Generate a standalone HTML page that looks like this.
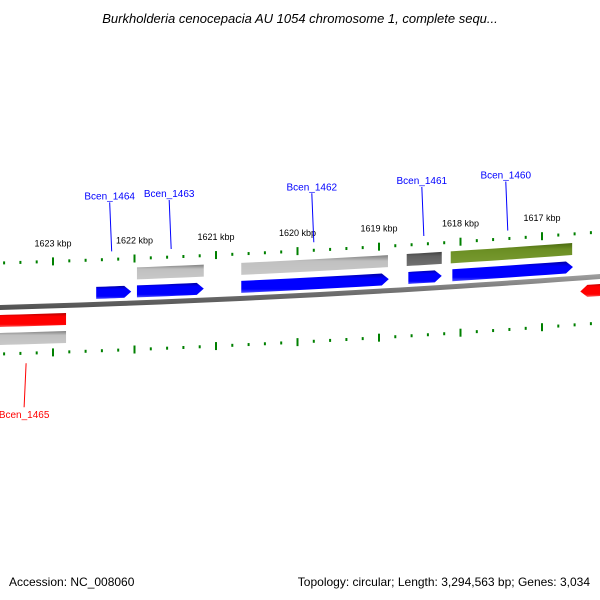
<!DOCTYPE html>
<html><head><meta charset="utf-8"><style>
body{margin:0;background:#fff;}
svg{display:block;font-family:"Liberation Sans","DejaVu Sans",sans-serif;}
</style></head><body>
<svg id="c" width="600" height="600">
<defs>
<linearGradient id="gBlue" x1="0" y1="0" x2="0" y2="1"><stop offset="0" stop-color="#0000a0"/><stop offset="0.25" stop-color="#0000ff"/><stop offset="0.8" stop-color="#0000ff"/><stop offset="1" stop-color="#5050ff"/></linearGradient>
<linearGradient id="gRed" x1="0" y1="0" x2="0" y2="1"><stop offset="0" stop-color="#b00000"/><stop offset="0.25" stop-color="#ff0000"/><stop offset="0.8" stop-color="#ff0000"/><stop offset="1" stop-color="#ff6060"/></linearGradient>
<linearGradient id="gGray" x1="0" y1="0" x2="0" y2="1"><stop offset="0" stop-color="#808080"/><stop offset="0.3" stop-color="#c0c0c0"/><stop offset="1" stop-color="#c8c8c8"/></linearGradient>
<linearGradient id="gDark" x1="0" y1="0" x2="0" y2="1"><stop offset="0" stop-color="#404040"/><stop offset="0.3" stop-color="#606060"/><stop offset="1" stop-color="#707070"/></linearGradient>
<linearGradient id="gOlive" x1="0" y1="0" x2="0" y2="1"><stop offset="0" stop-color="#4a6a10"/><stop offset="0.3" stop-color="#6b8e23"/><stop offset="1" stop-color="#789a30"/></linearGradient>
<linearGradient id="gBack" x1="0" y1="0" x2="0" y2="1"><stop offset="0" stop-color="#a0a0a0"/><stop offset="0.5" stop-color="#707070"/><stop offset="1" stop-color="#505050"/></linearGradient>
</defs>
<text x="300" y="23" text-anchor="middle" font-size="13" font-style="italic" fill="#000">Burkholderia cenocepacia AU 1054 chromosome 1, complete sequ...</text>
<text x="9" y="586" font-size="12" fill="#000">Accession: NC_008060</text>
<text x="590" y="586" text-anchor="end" font-size="12" fill="#000">Topology: circular; Length: 3,294,563 bp; Genes: 3,034</text>
<g id="layer"></g>
</svg>
<script>
// data (kbp positions)
const tickKbp = [1623,1622,1621,1620,1619,1618,1617];
const tickLabels = ["1623 kbp","1622 kbp","1621 kbp","1620 kbp","1619 kbp","1618 kbp","1617 kbp"];
const fwdStart = [1622.47,1621.97,1620.69,1618.64,1618.10];
const fwdEnd   = [1622.04,1621.15,1618.88,1618.23,1616.62];
const topStart = [1621.97,1620.69,1618.66,1618.12];
const topEnd   = [1621.15,1618.89,1618.23,1616.63];
const topKind  = ["gray","gray","dark","olive"];
const revStart = [1623.71,1616.53];
const revEnd   = [1622.84,1616.17];
const botStart = [1623.71];
const botEnd   = [1622.84];
const geneNames = ["Bcen_1464","Bcen_1463","Bcen_1462","Bcen_1461","Bcen_1460","Bcen_1465"];
const geneKbp   = [1622.28,1621.55,1619.80,1618.45,1617.42,1623.33];

const NS="http://www.w3.org/2000/svg";
const L=document.getElementById('layer');
const X=k=>53+(1623-k)*81.5;
const Y=x=>307-0.0283*x-0.000039*x*x;
function el(t,a){const e=document.createElementNS(NS,t);for(const k in a)e.setAttribute(k,a[k]);L.appendChild(e);return e;}
function band(x1,x2,off,h,fill,arrow,name){
  const a=Math.min(x1,x2),b=Math.max(x1,x2);
  const pts=[];const n=6;
  const tip=arrow? 7:0;
  const e1=arrow==='r'?b-tip:b, s1=arrow==='l'?a+tip:a;
  for(let i=0;i<=n;i++){const x=s1+(e1-s1)*i/n;pts.push([x,Y(x)+off-h/2]);}
  if(arrow==='r'){pts.push([b,Y(b)+off]);}
  for(let i=n;i>=0;i--){const x=s1+(e1-s1)*i/n;pts.push([x,Y(x)+off+h/2]);}
  if(arrow==='l'){pts.push([a,Y(a)+off]);}
  const p=el('polygon',{points:pts.map(p=>p.join(',')).join(' '),fill:fill});
  
  
}
// backbone
{const pts=[];for(let x=0;x<=600;x+=20)pts.push([x,Y(x)-2]);for(let x=600;x>=0;x-=20)pts.push([x,Y(x)+3]);
const b=el('polygon',{points:pts.map(p=>p.join(',')).join(' '),fill:'url(#gBack)'});

}
// ticks
for(let k=1624.4;k>=1616.0;k=Math.round((k-0.2)*10)/10){
  const x=X(k);if(x<-2||x>602)continue;
  const major=Math.abs(k-Math.round(k))<0.01;
  const len=major?8:3;
  [-44,47].forEach((off,j)=>{
    const y=Y(x)+off;
    const t=el('line',{x1:x,x2:x,y1:y-len/2,y2:y+len/2,stroke:'#008000','stroke-width':2});
    
    
  });
}
tickKbp.forEach((k,i)=>{const x=X(k);
  const t=el('text',{x:x,y:Y(x)-59,'text-anchor':'middle','font-size':9,fill:'#000'});
  t.textContent=tickLabels[i];
  
  });
// features
const kindFill={gray:'url(#gGray)',dark:'url(#gDark)',olive:'url(#gOlive)'};
topStart.forEach((s,i)=>band(X(s),X(topEnd[i]),-29,12,kindFill[topKind[i]],null,'top-feature'));
fwdStart.forEach((s,i)=>band(X(s),X(fwdEnd[i]),-11,12,'url(#gBlue)','r','forward-gene'));
revStart.forEach((s,i)=>band(X(s),X(revEnd[i]),i?14:14,12,'url(#gRed)',i?'l':null,'reverse-gene'));
botStart.forEach((s,i)=>band(X(s),X(botEnd[i]),32,12,'url(#gGray)',null,'bottom-feature'));
// gene labels
geneNames.forEach((n,i)=>{
  const x=X(geneKbp[i]);const red=i===5;const c=red?'#ff0000':'#0000ff';
  let ly1,ly2,ty;
  if(red){ly1=Y(x)+57;ly2=Y(x)+101;ty=ly2+11;}
  else{ly1=Y(x)-52;ly2=Y(x)-101;ty=ly2-3;}
  const ln=el('line',{x1:x,y1:ly1,x2:x-2,y2:ly2,stroke:c,'stroke-width':1});
  
  
  const t=el('text',{x:x-2,y:ty,'text-anchor':'middle','font-size':10,fill:c});
  t.textContent=n;
  
  
});
</script>
</body></html>
